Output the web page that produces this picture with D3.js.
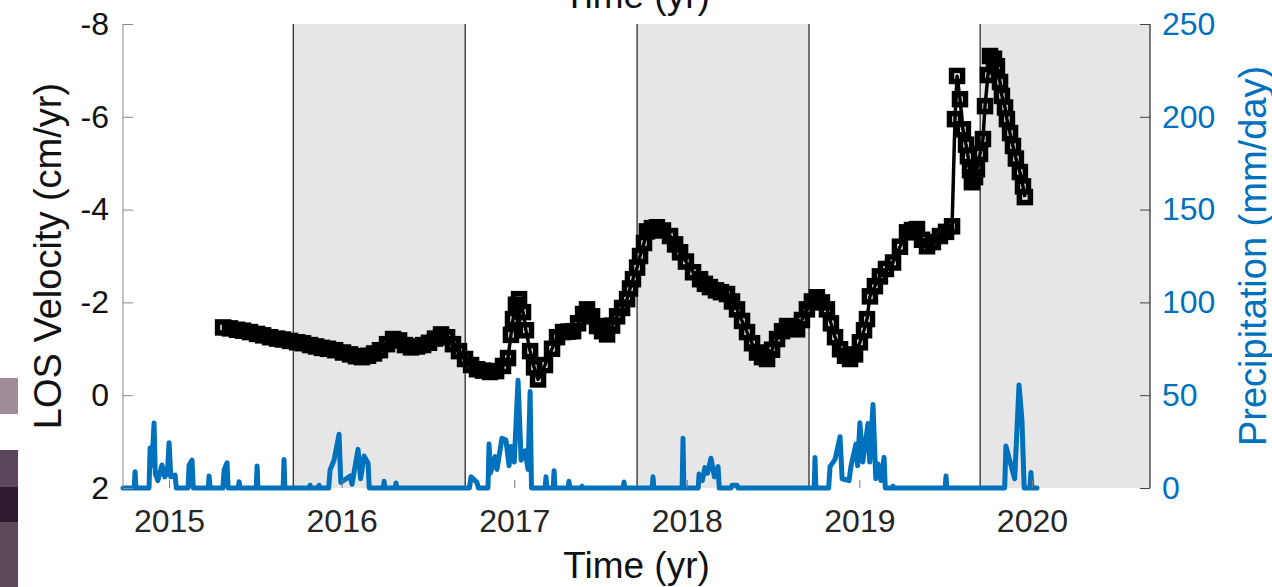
<!DOCTYPE html>
<html>
<head>
<meta charset="utf-8">
<script src="https://cdn.jsdelivr.net/npm/d3@7"></script>
<style>
  html, body { margin: 0; padding: 0; background: #fff; }
  svg { display: block; font-family: "Liberation Sans", Arial, sans-serif; }
</style>
</head>
<body>
<svg id="chart"></svg>
<script>
// LOS velocity time series (decimal year, cm/yr)
const velTime = [2015.313, 2015.353, 2015.394, 2015.429, 2015.469, 2015.510, 2015.545, 2015.585, 2015.626, 2015.660,
  2015.701, 2015.742, 2015.776, 2015.817, 2015.852, 2015.886, 2015.921, 2015.962, 2016.008, 2016.049,
  2016.083, 2016.118, 2016.153, 2016.188, 2016.222, 2016.263, 2016.298, 2016.333, 2016.367, 2016.402,
  2016.437, 2016.472, 2016.506, 2016.541, 2016.576, 2016.611, 2016.645, 2016.680, 2016.715, 2016.750,
  2016.784, 2016.819, 2016.860, 2016.895, 2016.935, 2016.964, 2016.981, 2016.993, 2017.010, 2017.028,
  2017.051, 2017.068, 2017.092, 2017.115, 2017.138, 2017.178, 2017.219, 2017.248, 2017.283, 2017.312,
  2017.341, 2017.370, 2017.399, 2017.422, 2017.451, 2017.480, 2017.509, 2017.538, 2017.567, 2017.596,
  2017.625, 2017.654, 2017.671, 2017.688, 2017.712, 2017.729, 2017.752, 2017.769, 2017.798, 2017.827,
  2017.862, 2017.903, 2017.932, 2017.961, 2017.995, 2018.036, 2018.077, 2018.105, 2018.134, 2018.169,
  2018.198, 2018.233, 2018.262, 2018.291, 2018.320, 2018.349, 2018.378, 2018.407, 2018.436, 2018.465,
  2018.494, 2018.523, 2018.552, 2018.581, 2018.610, 2018.639, 2018.667, 2018.696, 2018.725, 2018.754,
  2018.783, 2018.812, 2018.835, 2018.859, 2018.888, 2018.917, 2018.946, 2018.975, 2019.003, 2019.027,
  2019.044, 2019.061, 2019.090, 2019.119, 2019.154, 2019.195, 2019.235, 2019.276, 2019.305, 2019.334,
  2019.363, 2019.392, 2019.426, 2019.467, 2019.502, 2019.537, 2019.554, 2019.566, 2019.583, 2019.600,
  2019.618, 2019.629, 2019.641, 2019.652, 2019.670, 2019.681, 2019.699, 2019.716, 2019.728, 2019.745,
  2019.757, 2019.780, 2019.797, 2019.815, 2019.826, 2019.844, 2019.855, 2019.873, 2019.890, 2019.907,
  2019.930, 2019.948, 2019.959];
const velLos = [-1.46, -1.44, -1.41, -1.39, -1.36, -1.32, -1.29, -1.25, -1.22, -1.20,
  -1.17, -1.14, -1.12, -1.08, -1.05, -1.02, -1.00, -0.97, -0.92, -0.88,
  -0.84, -0.82, -0.85, -0.90, -0.97, -1.10, -1.21, -1.18, -1.08, -1.03,
  -1.05, -1.08, -1.13, -1.22, -1.31, -1.25, -1.10, -0.95, -0.78, -0.65,
  -0.56, -0.53, -0.50, -0.52, -0.63, -0.80, -1.30, -1.64, -1.95, -2.07,
  -1.79, -1.40, -0.95, -0.60, -0.34, -0.65, -1.00, -1.25, -1.36, -1.37,
  -1.38, -1.55, -1.75, -1.85, -1.70, -1.49, -1.38, -1.31, -1.50, -1.70,
  -1.88, -2.07, -2.30, -2.50, -2.75, -3.00, -3.28, -3.53, -3.60, -3.62,
  -3.55, -3.43, -3.25, -3.08, -2.88, -2.65, -2.50, -2.40, -2.33, -2.26,
  -2.22, -2.18, -2.02, -1.85, -1.60, -1.36, -1.12, -0.92, -0.82, -0.78,
  -0.98, -1.21, -1.38, -1.49, -1.47, -1.42, -1.62, -1.85, -2.02, -2.11,
  -2.00, -1.85, -1.55, -1.25, -0.99, -0.85, -0.78, -0.88, -1.14, -1.40,
  -1.64, -2.13, -2.35, -2.56, -2.72, -2.86, -3.20, -3.51, -3.56, -3.58,
  -3.35, -3.21, -3.30, -3.43, -3.52, -3.64, -5.95, -6.88, -6.38, -5.73,
  -5.40, -5.15, -4.85, -4.59, -4.70, -4.87, -5.20, -5.52, -6.23, -6.90,
  -7.31, -7.25, -7.09, -6.75, -6.45, -6.20, -5.95, -5.65, -5.37, -5.10,
  -4.81, -4.50, -4.27];

// daily precipitation readings (decimal year, mm/day)
const rainTime = [2014.733,
  2014.798, 2014.803, 2014.808,
  2014.884, 2014.890, 2014.900, 2014.913, 2014.920, 2014.935, 2014.959, 2014.975, 2014.990, 2015.000, 2015.010, 2015.035, 2015.042,
  2015.110, 2015.116, 2015.133, 2015.140,
  2015.227, 2015.232, 2015.238,
  2015.312, 2015.319, 2015.336, 2015.342,
  2015.401, 2015.406, 2015.411,
  2015.505, 2015.510, 2015.515,
  2015.661, 2015.666, 2015.671,
  2015.812, 2015.817, 2015.822,
  2015.864, 2015.869, 2015.874,
  2015.925, 2015.933, 2015.956, 2015.985, 2015.995, 2016.049, 2016.060, 2016.095, 2016.110, 2016.130, 2016.153, 2016.160,
  2016.241, 2016.246, 2016.251,
  2016.310, 2016.315, 2016.320,
  2016.740, 2016.750, 2016.784, 2016.792,
  2016.848, 2016.854, 2016.862, 2016.889, 2016.900, 2016.929, 2016.952, 2016.970, 2016.981, 2017.000, 2017.022, 2017.040, 2017.063, 2017.080, 2017.092, 2017.100,
  2017.179, 2017.184, 2017.190,
  2017.226, 2017.231, 2017.236,
  2017.312, 2017.317, 2017.322,
  2017.388, 2017.393, 2017.398,
  2017.631, 2017.636, 2017.641,
  2017.799, 2017.804, 2017.809,
  2017.973, 2017.978, 2017.983,
  2018.066, 2018.071, 2018.090, 2018.105, 2018.120, 2018.140, 2018.160, 2018.181, 2018.188,
  2018.257, 2018.262, 2018.291, 2018.296,
  2018.738, 2018.743, 2018.748,
  2018.822, 2018.830, 2018.859, 2018.888, 2018.900, 2018.940, 2018.951, 2018.980, 2018.990, 2019.003, 2019.020, 2019.050, 2019.060, 2019.079, 2019.095, 2019.108, 2019.125, 2019.143, 2019.150,
  2019.190, 2019.195, 2019.200,
  2019.497, 2019.502, 2019.507,
  2019.842, 2019.849, 2019.878, 2019.900, 2019.925, 2019.942, 2019.955, 2019.988, 2019.994, 2020.000,
  2020.029];
const rainMm = [0,
  0, 8.8, 0,
  0, 21.5, 12, 35, 8, 4, 12.4, 6, 8, 24.4, 6, 7, 0,
  0, 12.4, 15, 0,
  0, 6.5, 0,
  0, 9.7, 13.6, 0,
  0, 3.4, 0,
  0, 11.9, 0,
  0, 15.4, 0,
  0, 1.5, 0,
  0, 1.5, 0,
  0, 9.7, 15, 29, 3, 6.5, 2, 20.8, 5, 17.2, 13.4, 0,
  0, 3.6, 0,
  0, 2.7, 0,
  0, 6, 3, 0,
  0, 23.7, 8, 16.9, 10, 26.8, 25.8, 12, 22.3, 14, 58, 15, 20, 10, 52, 0,
  0, 6, 0,
  0, 9.3, 0,
  0, 3.6, 0,
  0, 1, 0,
  0, 3.2, 0,
  0, 6, 0,
  0, 26.8, 0,
  0, 7.5, 4, 11, 8, 16, 6, 11.5, 0,
  0, 1.5, 1.5, 0,
  0, 16.5, 0,
  0, 11.5, 15.4, 27.6, 5, 4, 11.5, 23.7, 12, 35.2, 14, 34.8, 14, 45, 5, 13, 4, 16.5, 0,
  0, 1, 0,
  0, 6.5, 0,
  0, 22.6, 12.5, 5, 55.5, 36.6, 0, 0, 8.3, 0,
  0];

// shaded wet seasons
const seasonStart = [2015.720, 2017.712, 2019.700];
const seasonEnd = [2016.716, 2018.708, 2020.684];

const yearTicks = [2015, 2016, 2017, 2018, 2019, 2020];
const velTicks = [-8, -6, -4, -2, 0, 2];
const rainTicks = [0, 50, 100, 150, 200, 250];

const width = 1272, height = 587;
const padL = 123, padR = 1150, padT = 24, padB = 488;
const blue = "#0072BD";
const tickFont = 32, labelFont = 38;

const svg = d3.select("#chart").attr("width", width).attr("height", height);

// strip of neighbouring panel at the left edge
const strip = [[378, 414, "#a08d9a"], [450, 487, "#5c475a"], [487, 522, "#2e1a2c"], [522, 587, "#5c4a5b"]];
svg.selectAll("rect.strip").data(strip).enter().append("rect")
  .attr("class", "strip")
  .attr("x", 0).attr("width", 18)
  .attr("y", d => d[0]).attr("height", d => d[1] - d[0])
  .attr("fill", d => d[2]);

const x = d3.scaleLinear().domain([2014.733, 2020.684]).range([padL, padR]);
const yV = d3.scaleLinear().domain([-8, 2]).range([padT, padB]);
const yR = d3.scaleLinear().domain([0, 250]).range([padB, padT]);

// seasons
const seasons = seasonStart.map((s, i) => [s, seasonEnd[i]]);
svg.selectAll("rect.season").data(seasons).enter().append("rect")
  .attr("class", "season")
  .attr("x", d => x(d[0])).attr("width", d => x(d[1]) - x(d[0]))
  .attr("y", padT).attr("height", padB - padT)
  .attr("fill", "#e6e6e6");

const edges = seasonStart.concat(seasonEnd.slice(0, 2));
svg.selectAll("line.edge").data(edges).enter().append("line")
  .attr("class", "edge")
  .attr("x1", d => x(d)).attr("x2", d => x(d))
  .attr("y1", padT).attr("y2", padB)
  .attr("stroke", "#3a3a3a").attr("stroke-width", 1.4);

// precipitation
const rain = rainTime.map((t, i) => [t, rainMm[i]]);
svg.append("path")
  .datum(rain)
  .attr("fill", "none")
  .attr("stroke", blue)
  .attr("stroke-width", 5)
  .attr("stroke-linejoin", "round")
  .attr("stroke-linecap", "round")
  .attr("d", d3.line().x(d => x(d[0])).y(d => yR(d[1])));

// velocity
const vel = velTime.map((t, i) => [t, velLos[i]]);
svg.append("path")
  .datum(vel)
  .attr("fill", "none")
  .attr("stroke", "#000")
  .attr("stroke-width", 3.5)
  .attr("stroke-linejoin", "round")
  .attr("d", d3.line().x(d => x(d[0])).y(d => yV(d[1])));

const ms = 11;
svg.selectAll("rect.mk").data(vel).enter().append("rect")
  .attr("class", "mk")
  .attr("x", d => x(d[0]) - ms / 2).attr("y", d => yV(d[1]) - ms / 2)
  .attr("width", ms).attr("height", ms)
  .attr("fill", "none").attr("stroke", "#000").attr("stroke-width", 5.5);

// axes
const xAxis = svg.append("g")
  .attr("transform", "translate(0," + padB + ")")
  .call(d3.axisBottom(x).tickValues(yearTicks).tickFormat(d => String(d)).tickSize(-8).tickPadding(21));
xAxis.select(".domain").remove();
xAxis.selectAll("line").attr("stroke", "#777");
xAxis.selectAll("text").attr("font-size", tickFont).attr("fill", "#262626");

const yAxis = svg.append("g")
  .attr("transform", "translate(" + padL + ",0)")
  .call(d3.axisLeft(yV).tickValues(velTicks).tickFormat(d => String(d)).tickSize(-10).tickPadding(14));
yAxis.select(".domain").attr("stroke", "#888").attr("d", "M0," + padT + "V" + padB);
yAxis.selectAll("line").attr("stroke", "#888");
yAxis.selectAll("text").attr("font-size", tickFont).attr("fill", "#111");

const rAxis = svg.append("g")
  .attr("transform", "translate(" + padR + ",0)")
  .call(d3.axisRight(yR).tickValues(rainTicks).tickFormat(d => String(d)).tickSize(-10).tickPadding(12));
rAxis.select(".domain").attr("stroke", "#444").attr("stroke-width", 1.4).attr("d", "M0," + padT + "V" + padB);
rAxis.selectAll("line").attr("stroke", "#444");
rAxis.selectAll("text").attr("font-size", tickFont).attr("fill", blue);

// labels
svg.append("text")
  .attr("x", (padL + padR) / 2).attr("y", 578)
  .attr("text-anchor", "middle").attr("font-size", 37).attr("fill", "#111")
  .text("Time (yr)");

svg.append("text")
  .attr("x", (padL + padR) / 2).attr("y", 8)
  .attr("text-anchor", "middle").attr("font-size", 37).attr("fill", "#111")
  .text("Time (yr)");

svg.append("text")
  .attr("transform", "translate(61," + (padT + padB) / 2 + ") rotate(-90)")
  .attr("text-anchor", "middle").attr("font-size", labelFont).attr("fill", "#111")
  .text("LOS Velocity (cm/yr)");

svg.append("text")
  .attr("transform", "translate(1266," + (padT + padB) / 2 + ") rotate(-90)")
  .attr("text-anchor", "middle").attr("font-size", labelFont).attr("fill", blue)
  .text("Precipitation (mm/day)");
</script>
</body>
</html>
